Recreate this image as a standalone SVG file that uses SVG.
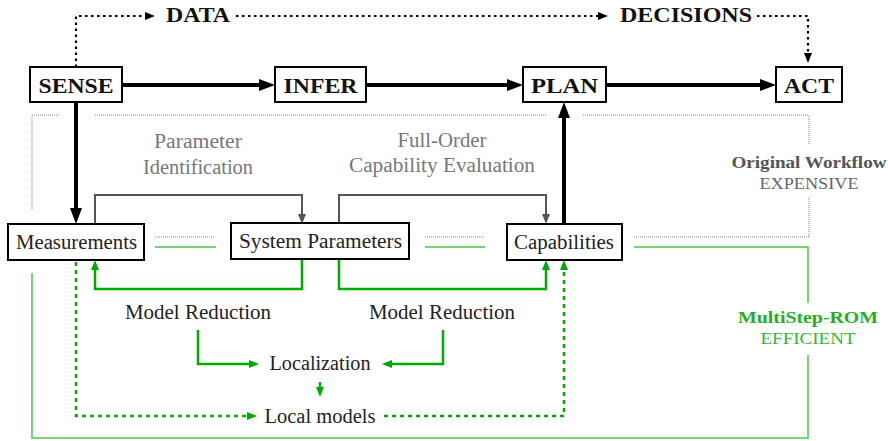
<svg xmlns="http://www.w3.org/2000/svg" width="888" height="441" viewBox="0 0 888 441">
<defs>
<style>
.box{fill:#fff;stroke:#000;stroke-width:2}
.bt{font-family:"Liberation Serif","DejaVu Serif",serif;font-weight:bold;font-size:22px;fill:#111;text-anchor:middle}
.rt{font-family:"Liberation Serif","DejaVu Serif",serif;font-size:20px;fill:#222;text-anchor:middle}
.gt{font-family:"Liberation Serif","DejaVu Serif",serif;font-size:20px;fill:#777;text-anchor:middle}
.sb{font-family:"Liberation Serif","DejaVu Serif",serif;font-weight:bold;font-size:17px;text-anchor:middle}
.sr{font-family:"Liberation Serif","DejaVu Serif",serif;font-size:17px;text-anchor:middle}
.thick{fill:none;stroke:#000;stroke-width:4}
.dotb{fill:none;stroke:#000;stroke-width:2.2;stroke-dasharray:2.5 3.5}
.gdot{fill:none;stroke:#888;stroke-width:1;stroke-dasharray:1 1}
.gthin{fill:none;stroke:#4cc44c;stroke-width:1.5}
.gray{fill:none;stroke:#555;stroke-width:2}
.green{fill:none;stroke:#00aa00;stroke-width:2.5}
.gdash{fill:none;stroke:#00aa00;stroke-width:2.5;stroke-dasharray:4 4}
</style>
<marker id="big" viewBox="0 0 16 12" markerWidth="16" markerHeight="12" markerUnits="userSpaceOnUse" refX="4" refY="6" orient="auto"><path d="M0,0 L16,6 L0,12 z" fill="#000"/></marker>
<marker id="dot" viewBox="0 0 10 8" markerWidth="10" markerHeight="8" markerUnits="userSpaceOnUse" refX="2" refY="4" orient="auto"><path d="M0,0 L10,4 L0,8 z" fill="#000"/></marker>
<marker id="ga" viewBox="0 0 10 8" markerWidth="10" markerHeight="8" markerUnits="userSpaceOnUse" refX="2" refY="4" orient="auto"><path d="M0,0 L10,4 L0,8 z" fill="#555"/></marker>
<marker id="gr" viewBox="0 0 10 8" markerWidth="10" markerHeight="8" markerUnits="userSpaceOnUse" refX="2" refY="4" orient="auto"><path d="M0,0 L10,4 L0,8 z" fill="#00aa00"/></marker>
</defs>
<rect width="888" height="441" fill="#fff"/>
<g id="connectors">
<path class="dotb" d="M76,67 V16 H147" marker-end="url(#dot)"/>
<path class="dotb" d="M236,16 H600" marker-end="url(#dot)"/>
<path class="dotb" d="M757,16 H808 V55" marker-end="url(#dot)"/>
<path class="thick" d="M122,85 H263" marker-end="url(#big)"/>
<path class="thick" d="M366,85 H511" marker-end="url(#big)"/>
<path class="thick" d="M606,85 H764" marker-end="url(#big)"/>
<path class="thick" d="M76,102 V212" marker-end="url(#big)"/>
<path class="thick" d="M564,224 V114" marker-end="url(#big)"/>
<path class="gdot" d="M59,115 H32 V210 M95,115 H547 M583,115 H809 V145 M809,197 V237 H634 M155,237 H215 M425,237 H485"/>
<path class="gthin" d="M155,247 H216 M425,247 H485 M634,247 H808 V303 M808,355 V438 H32 V273"/>
<path class="gray" d="M95,224 V195 H302 V216" marker-end="url(#ga)"/>
<path class="gray" d="M339,223 V195 H546 V216" marker-end="url(#ga)"/>
<path class="green" d="M302,259 V289 H95 V268" marker-end="url(#gr)"/>
<path class="green" d="M339,259 V289 H546 V268" marker-end="url(#gr)"/>
<path class="green" d="M198,330 V364 H251" marker-end="url(#gr)"/>
<path class="green" d="M443,330 V364 H390" marker-end="url(#gr)"/>
<path class="green" d="M320,382 V389" marker-end="url(#gr)"/>
<path class="gdash" d="M76,262 V416 H249" marker-end="url(#gr)"/>
<path class="gdash" d="M384,416 H564 V268" marker-end="url(#gr)"/>
</g>
<g id="sense"><rect class="box" x="30" y="67" width="92" height="35"/><text class="bt" x="76" y="92.5" textLength="75" lengthAdjust="spacingAndGlyphs">SENSE</text></g>
<g id="infer"><rect class="box" x="275" y="67" width="91" height="35"/><text class="bt" x="320.5" y="92.5" textLength="74" lengthAdjust="spacingAndGlyphs">INFER</text></g>
<g id="plan"><rect class="box" x="523" y="67" width="83" height="35"/><text class="bt" x="564.5" y="92.5" textLength="67" lengthAdjust="spacingAndGlyphs">PLAN</text></g>
<g id="act"><rect class="box" x="776" y="67" width="66" height="35"/><text class="bt" x="809" y="92.5" textLength="50" lengthAdjust="spacingAndGlyphs">ACT</text></g>
<g id="data"><text class="bt" x="198" y="22" font-size="20" textLength="64" lengthAdjust="spacingAndGlyphs">DATA</text></g>
<g id="decisions"><text class="bt" x="686" y="22" font-size="20" textLength="132" lengthAdjust="spacingAndGlyphs">DECISIONS</text></g>
<g id="measurements"><rect class="box" x="8" y="224" width="136" height="36"/><text class="rt" x="76.5" y="249" textLength="121" lengthAdjust="spacingAndGlyphs">Measurements</text></g>
<g id="system-parameters"><rect class="box" x="231" y="223" width="178" height="36"/><text class="rt" x="320.5" y="248" textLength="163" lengthAdjust="spacingAndGlyphs">System Parameters</text></g>
<g id="capabilities"><rect class="box" x="507" y="224" width="115" height="36"/><text class="rt" x="564" y="249" textLength="100" lengthAdjust="spacingAndGlyphs">Capabilities</text></g>
<g id="param-id"><text class="gt" x="198" y="148" textLength="88" lengthAdjust="spacingAndGlyphs">Parameter</text><text class="gt" x="198" y="174" textLength="110" lengthAdjust="spacingAndGlyphs">Identification</text></g>
<g id="full-order"><text class="gt" x="442" y="147" textLength="89" lengthAdjust="spacingAndGlyphs">Full-Order</text><text class="gt" x="442" y="172" textLength="186" lengthAdjust="spacingAndGlyphs">Capability Evaluation</text></g>
<g id="original"><text class="sb" x="809" y="168" fill="#555" textLength="155" lengthAdjust="spacingAndGlyphs">Original Workflow</text><text class="sr" x="809" y="189" fill="#666" textLength="99" lengthAdjust="spacingAndGlyphs">EXPENSIVE</text></g>
<g id="multistep"><text class="sb" x="808" y="323" fill="#22b022" textLength="140" lengthAdjust="spacingAndGlyphs">MultiStep-ROM</text><text class="sr" x="808" y="344" fill="#33b833" textLength="95" lengthAdjust="spacingAndGlyphs">EFFICIENT</text></g>
<g id="model-red-1"><text class="rt" x="198" y="319" textLength="146" lengthAdjust="spacingAndGlyphs">Model Reduction</text></g>
<g id="model-red-2"><text class="rt" x="442" y="319" textLength="146" lengthAdjust="spacingAndGlyphs">Model Reduction</text></g>
<g id="localization"><text class="rt" x="320" y="370" textLength="101" lengthAdjust="spacingAndGlyphs">Localization</text></g>
<g id="local-models"><text class="rt" x="320" y="423" textLength="111" lengthAdjust="spacingAndGlyphs">Local models</text></g>
</svg>
